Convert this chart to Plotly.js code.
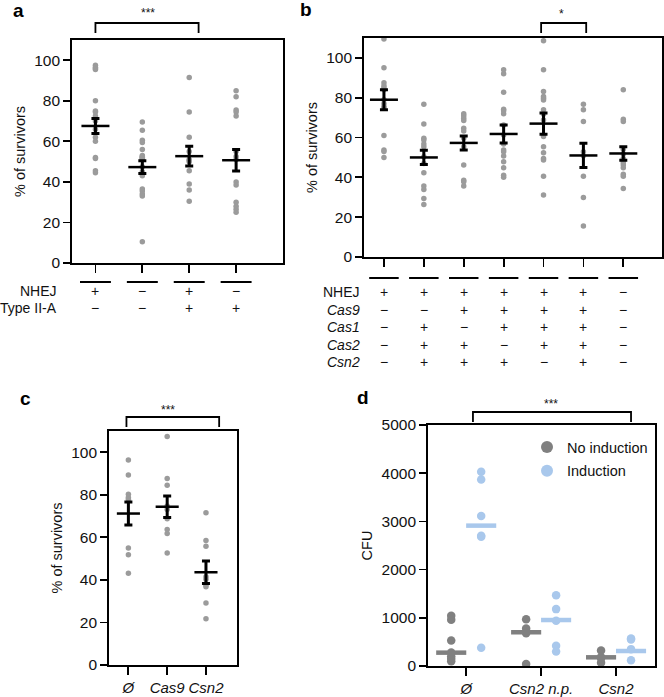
<!DOCTYPE html>
<html>
<head>
<meta charset="utf-8">
<script src="https://cdn.plot.ly/plotly-3.0.1.min.js"></script>
<style>html,body{margin:0;padding:0;background:#fff;}#chart{width:664px;height:697px;}</style>
</head>
<body>
<div id="chart"></div>
<script>
// ---------- Panel a data ----------
const aPoints = [
  [97.5, 96.5, 96, 95.5, 80, 75, 74.5, 72.5, 70, 66, 62, 60, 52, 51.5, 45.5, 44.5],
  [69.5, 65.5, 60.5, 59.5, 56, 53, 52.5, 52, 52, 51.5, 51, 47.5, 45, 43, 36.5, 35.5, 34, 33, 10.5],
  [91.5, 74.5, 62, 55, 51, 50.5, 50, 45.5, 39, 36, 30.5],
  [85, 82, 75.5, 74.5, 72.5, 55, 52.5, 51, 40, 38.5, 30, 28, 26.5, 25]
];
const aMean = [67.6, 47.3, 52.7, 50.7];
const aSem = [3.7, 3.1, 4.9, 5.3];
const aRowNames = ["NHEJ", "Type II-A"];
const aRows = [["+", "−", "+", "−"], ["−", "−", "+", "+"]];

// ---------- Panel b data ----------
const bPoints = [
  [109.5, 95, 87.5, 86, 85, 84, 79, 77, 75.5, 75, 61, 53.7, 53, 50],
  [76.7, 66.8, 59.6, 58.8, 56.8, 55.4, 50.4, 47, 42.3, 35.6, 33.9, 29.4, 26.4],
  [71.9, 70.9, 69.7, 68.5, 64.7, 63.3, 59.6, 55.4, 46.2, 38.6, 37.8, 35.6],
  [94, 92, 82.8, 74.2, 73.4, 71.9, 66.3, 61.3, 56.8, 53.7, 52.9, 50.7, 47.9, 44.8, 41.1, 40],
  [108.6, 94, 83.1, 80.6, 79.8, 78.9, 73.9, 71.7, 68.8, 60.5, 55.4, 52.4, 49.5, 48.7, 40.6, 31.1],
  [76.7, 73.9, 68, 52.9, 50.9, 40.6, 29.9, 15.6],
  [84, 69.2, 68, 54.1, 51.7, 49.5, 48.4, 47.4, 46.2, 44.8, 41.6, 40.6, 34.4]
];
const bMean = [79, 50, 57.3, 61.8, 67, 51, 52];
const bSem = [5, 3.6, 3.5, 4.5, 5.3, 6.1, 3.4];
const bRowNames = ["NHEJ", "<i>Cas9</i>", "<i>Cas1</i>", "<i>Cas2</i>", "<i>Csn2</i>"];
const bRows = [
  ["+", "+", "+", "+", "+", "+", "−"],
  ["−", "−", "+", "+", "+", "+", "−"],
  ["−", "+", "−", "+", "+", "+", "−"],
  ["−", "+", "+", "−", "+", "+", "−"],
  ["−", "+", "+", "+", "−", "+", "−"]
];

// ---------- Panel c data ----------
const cCategories = ["<i>Ø</i>", "<i>Cas9</i>", "<i>Csn2</i>"];
const cPoints = [
  [96.4, 89.3, 80.3, 78.7, 77.9, 55, 51.8, 43.1],
  [107.4, 87.7, 84.5, 74.7, 73.1, 68.7, 63.7, 61.8, 52.6],
  [71.6, 58.5, 55.8, 41.5, 40.3, 37.6, 36.8, 29.2, 21.8]
];
const cMean = [71.2, 74.4, 43.6];
const cSem = [5.4, 5.1, 5.3];

// ---------- Panel d data ----------
const dCategories = ["<i>Ø</i>", "<i>Csn2 n.p.</i>", "<i>Csn2</i>"];
const dNoInduction = [
  [1040, 960, 530, 280, 200, 150, 100],
  [970, 780, 680, 40],
  [320, 180, 160, 70]
];
const dInduction = [
  [4030, 3870, 3110, 2700, 2680, 380],
  [1470, 1180, 940, 420, 300],
  [570, 550, 350, 120]
];
const dNoInductionMedian = [277, 700, 180];
const dInductionMedian = [2912, 954, 311];

// ---------- styles ----------
const FONT = "'Liberation Sans', Arial, Helvetica, sans-serif";
const DOT = "#9b9b9b";
const GREY = "#808080";
const BLUE = "#a9c8ec";
const W = 664, H = 697;
const px = v => v / W;
const py = v => 1 - v / H;

const traces = [];
const shapes = [];
const annotations = [];

function dotPanel(points, mean, sem, xa, ya, meanSize) {
  points.forEach((vals, i) => {
    traces.push({
      type: "scatter", mode: "markers", xaxis: xa, yaxis: ya, showlegend: false,
      x: vals.map(() => i), y: vals,
      marker: {color: DOT, size: 5.5}, hoverinfo: "y"
    });
  });
  traces.push({
    type: "scatter", mode: "markers", xaxis: xa, yaxis: ya, showlegend: false,
    x: mean.map((_, i) => i), y: mean,
    marker: {symbol: "line-ew", size: meanSize, color: "black", line: {color: "black", width: 2.5}},
    error_y: {type: "data", array: sem, visible: true, color: "black", thickness: 3, width: 4}
  });
}

dotPanel(aPoints, aMean, aSem, "x", "y", 20);
dotPanel(bPoints, bMean, bSem, "x2", "y2", 20);
dotPanel(cPoints, cMean, cSem, "x3", "y3", 16.5);

// Panel d
function dGroup(groups, med, color, name, off) {
  groups.forEach((vals, i) => {
    traces.push({
      type: "scatter", mode: "markers", xaxis: "x4", yaxis: "y4",
      name: name, legendgroup: name, showlegend: i === 0,
      x: vals.map(() => i + off), y: vals,
      marker: {color: color, size: 8.5}
    });
  });
  traces.push({
    type: "scatter", mode: "markers", xaxis: "x4", yaxis: "y4", showlegend: false,
    x: med.map((_, i) => i + off), y: med,
    marker: {symbol: "line-ew", size: 21.5, color: color, line: {color: color, width: 4.5}}
  });
}
dGroup(dNoInduction, dNoInductionMedian, GREY, "No induction", -0.2);
dGroup(dInduction, dInductionMedian, BLUE, "Induction", 0.2);

// ---------- table rows and segments ----------
function table(rowNames, rows, xa, segY, rowY, labelX, half) {
  rows[0].forEach((_, i) => {
    shapes.push({type: "line", xref: xa, yref: "paper", x0: i - half, x1: i + half,
      y0: py(segY), y1: py(segY), line: {color: "black", width: 2}});
  });
  rowNames.forEach((name, r) => {
    annotations.push({xref: "paper", yref: "paper", x: px(labelX), y: py(rowY[r]),
      xanchor: "right", yanchor: "middle", text: name, showarrow: false,
      font: {family: FONT, size: 14, color: "#111"}});
    rows[r].forEach((s, i) => {
      annotations.push({xref: xa, yref: "paper", x: i, y: py(rowY[r]),
        xanchor: "center", yanchor: "middle", text: s, showarrow: false,
        font: {family: FONT, size: 14, color: "#111"}});
    });
  });
}
table(aRowNames, aRows, "x", 282, [291, 308], 59, 0.33);
table(bRowNames, bRows, "x2", 278, [292, 310, 327, 345, 362], 362, 0.37);

// ---------- significance brackets ----------
function bracket(xa, x0, x1, yTop, yBot, stars, sx, sy) {
  shapes.push({type: "path", xref: xa, yref: "paper",
    path: `M ${x0},${py(yBot)} L ${x0},${py(yTop)} L ${x1},${py(yTop)} L ${x1},${py(yBot)}`,
    line: {color: "black", width: 1.8}});
  annotations.push({xref: xa, yref: "paper", x: sx, y: py(sy), text: stars, showarrow: false,
    xanchor: "center", yanchor: "middle", font: {family: FONT, size: 12, color: "#111"}});
}
bracket("x", 0, 2.2, 23, 33, "***", 1.13, 13);
bracket("x2", 3.94, 5.07, 23, 33, "*", 4.44, 14);
bracket("x3", -0.05, 2.34, 417, 427, "***", 1.01, 410);
bracket("x4", 0.09, 2.2, 412, 422, "***", 1.13, 404);

// ---------- panel letters ----------
[["a", 18, 10], ["b", 306, 9], ["c", 25, 398], ["d", 363, 397]].forEach(([t, x, y]) => {
  annotations.push({xref: "paper", yref: "paper", x: px(x), y: py(y), text: "<b>" + t + "</b>",
    showarrow: false, xanchor: "center", yanchor: "middle",
    font: {family: FONT, size: 19, color: "#000"}});
});

// ---------- axes ----------
function xAx(dom, range, n, opts) {
  return Object.assign({
    domain: dom, range: range, tickmode: "array", tickvals: [...Array(n).keys()],
    showticklabels: false, ticks: "outside", ticklen: 8, tickwidth: 1.8, tickcolor: "black",
    showline: true, mirror: true, linecolor: "black", linewidth: 1.8,
    showgrid: false, zeroline: false, fixedrange: true,
    tickfont: {family: FONT, size: 15, color: "#111"}
  }, opts || {});
}
function yAx(dom, range, tickvals, title, opts) {
  return Object.assign({
    domain: dom, range: range, tickmode: "array", tickvals: tickvals,
    ticks: "outside", ticklen: 7, tickwidth: 1.8, tickcolor: "black",
    showline: true, mirror: true, linecolor: "black", linewidth: 1.8,
    showgrid: false, zeroline: false, fixedrange: true,
    tickfont: {family: FONT, size: 15.5, color: "#111"},
    title: {text: title, font: {family: FONT, size: 14.5, color: "#111"}, standoff: 5}
  }, opts || {});
}
const pct = [0, 20, 40, 60, 80, 100];

const layout = {
  width: W, height: H, margin: {l: 0, r: 0, t: 0, b: 0},
  paper_bgcolor: "white", plot_bgcolor: "white",
  font: {family: FONT, color: "#111"},
  xaxis: xAx([px(72), px(283)], [-0.5, 4.0], 4, {anchor: "y"}),
  yaxis: yAx([py(263), py(40)], [0, 110], pct, "% of survivors", {anchor: "x"}),
  xaxis2: xAx([px(364), px(662)], [-0.5, 6.97], 7, {anchor: "y2"}),
  yaxis2: yAx([py(257), py(38)], [0, 110], pct, "% of survivors", {anchor: "x2"}),
  xaxis3: xAx([px(109), px(237)], [-0.5, 2.8], 3, {anchor: "y3", showticklabels: true, ticktext: cCategories}),
  yaxis3: yAx([py(665), py(431)], [0, 110], pct, "% of survivors", {anchor: "x3"}),
  xaxis4: xAx([px(428), px(655)], [-0.51, 2.52], 3, {anchor: "y4", showticklabels: true, ticktext: dCategories}),
  yaxis4: yAx([py(666), py(425)], [0, 5000], [0, 1000, 2000, 3000, 4000, 5000], "CFU", {anchor: "x4"}),
  showlegend: true,
  legend: {x: px(527), y: py(431), xanchor: "left", yanchor: "top", bgcolor: "rgba(0,0,0,0)",
    itemsizing: "constant", font: {family: FONT, size: 14.5, color: "#111"}, tracegroupgap: 2},
  shapes: shapes, annotations: annotations
};

Plotly.newPlot("chart", traces, layout, {staticPlot: true, displayModeBar: false});
</script>
</body>
</html>
